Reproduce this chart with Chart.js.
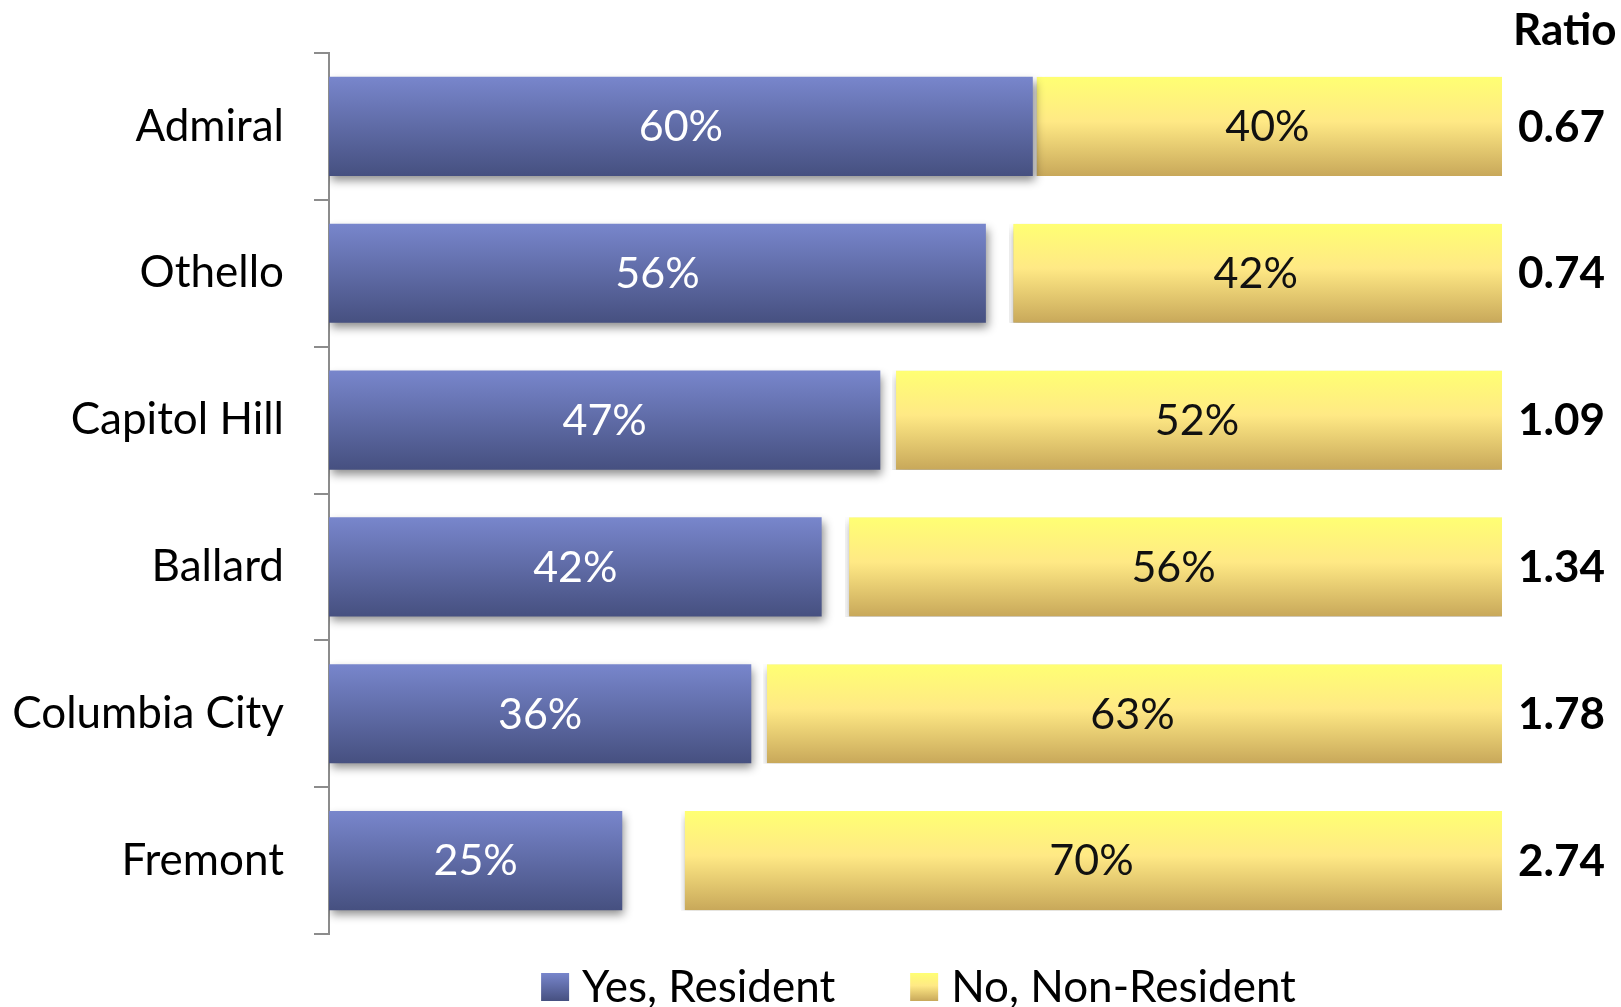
<!DOCTYPE html>
<html>
<head>
<meta charset="utf-8">
<script src="https://cdn.jsdelivr.net/npm/chart.js@4.4.1/dist/chart.umd.min.js"></script>
<style>
  html, body { margin: 0; padding: 0; background: #fff; }
  #wrap { width: 1621px; height: 1007px; }
</style>
</head>
<body>
<div id="wrap"><canvas id="chart"></canvas></div>
<script>
// données
const categories = ['Admiral', 'Othello', 'Capitol Hill', 'Ballard', 'Columbia City', 'Fremont'];
const yesResident = [60, 56, 47, 42, 36, 25];
const noNonResident = [40, 42, 52, 56, 63, 70];
const ratios = ['0.67', '0.74', '1.09', '1.34', '1.78', '2.74'];
// part restante (ni oui ni non) pour que "No" finisse à 100%
const remainder = yesResident.map((v, i) => 100 - v - noNonResident[i]);

const FONT = 'Lato';
const BAR_PCT = 0.675;
const blueStops = [[0, '#7886cc'], [1, '#465080']];
const yellowStops = [[0, '#ffff73'], [0.45, '#ffe985'], [1, '#c8a85a']];

function makeGrad(c, y0, y1, stops) {
    const g = c.createLinearGradient(0, y0, 0, y1);
    stops.forEach(s => g.addColorStop(s[0], s[1]));
    return g;
}

// dégradé vertical sur chaque barre
function barFill(stops) {
    return function (ctx) {
        const chart = ctx.chart;
        const y = chart.scales && chart.scales.y;
        if (!y || ctx.type !== 'data') return stops[0][1];
        const c = y.getPixelForValue(ctx.dataIndex);
        const h = (y.height / categories.length) * BAR_PCT / 2;
        if (!isFinite(c) || !isFinite(h) || h <= 0) return stops[0][1];
        return makeGrad(chart.ctx, c - h, c + h, stops);
    };
}

// ombre portée sous les barres + étiquettes
const barExtras = {
    id: 'barExtras',
    beforeDatasetsDraw(chart) {
        const c = chart.ctx;
        c.save();
        c.shadowColor = 'rgba(0,0,0,0.45)';
        c.shadowBlur = 9;
        c.shadowOffsetX = 2;
        c.shadowOffsetY = 5;
    },
    afterDatasetsDraw(chart) {
        const c = chart.ctx;
        c.restore();
        c.save();
        c.font = '43px ' + FONT;
        c.textAlign = 'center';
        c.textBaseline = 'middle';
        [0, 2].forEach(di => {
            const meta = chart.getDatasetMeta(di);
            const vals = chart.data.datasets[di].data;
            c.fillStyle = di === 0 ? '#ffffff' : '#111111';
            meta.data.forEach((bar, i) => {
                const p = bar.getCenterPoint();
                c.fillText(vals[i] + '%', p.x, p.y + 1);
            });
        });
        // colonne Ratio
        const yScale = chart.scales.y;
        c.font = 'bold 44px ' + FONT;
        c.fillStyle = '#000';
        c.textAlign = 'left';
        ratios.forEach((r, i) => {
            c.fillText(r, 1518, yScale.getPixelForValue(i) + 1);
        });
        c.fillText('Ratio', 1513, 31);
        c.restore();
    },
    afterDraw(chart) {
        // légende
        const c = chart.ctx;
        const items = [
            { text: 'Yes, Resident', stops: blueStops },
            { text: 'No, Non-Resident', stops: yellowStops }
        ];
        const box = 28, gapText = 13, gapItem = 75, yMid = 987;
        c.save();
        c.font = '44px ' + FONT;
        c.textBaseline = 'middle';
        c.textAlign = 'left';
        const widths = items.map(it => box + gapText + c.measureText(it.text).width);
        const total = widths.reduce((a, b) => a + b, 0) + gapItem * (items.length - 1);
        const ca = chart.chartArea;
        let x = (ca.left + ca.right) / 2 + 3 - total / 2;
        items.forEach((it, i) => {
            c.fillStyle = makeGrad(c, yMid - box / 2, yMid + box / 2, it.stops);
            c.fillRect(x, yMid - box / 2, box, box);
            c.fillStyle = '#000';
            c.fillText(it.text, x + box + gapText, yMid + 1);
            x += widths[i] + gapItem;
        });
        c.restore();
    }
};

Chart.defaults.font.family = FONT;

const ctx = document.getElementById('chart').getContext('2d');
const myChart = new Chart(ctx, {
    type: 'bar',
    data: {
        labels: categories,
        datasets: [
            {
                label: 'Yes, Resident',
                data: yesResident,
                backgroundColor: barFill(blueStops),
                borderWidth: 0
            },
            {
                label: 'Other',
                data: remainder,
                backgroundColor: 'rgba(0,0,0,0)',
                borderWidth: 0
            },
            {
                label: 'No, Non-Resident',
                data: noNonResident,
                backgroundColor: barFill(yellowStops),
                borderColor: '#ffffff',
                borderSkipped: false,
                borderWidth: { left: 4, right: 0, top: 0, bottom: 0 }
            }
        ]
    },
    options: {
        indexAxis: 'y',
        responsive: true,
        maintainAspectRatio: false,
        animation: false,
        barPercentage: BAR_PCT,
        categoryPercentage: 1,
        layout: {
            padding: { top: 53, right: 119, bottom: 73, left: 0 }
        },
        scales: {
            x: {
                stacked: true,
                min: 0,
                max: 100,
                display: false
            },
            y: {
                stacked: true,
                afterFit: function (scale) {
                    scale.width = 329;
                    scale.paddingTop = 0;
                    scale.paddingBottom = 0;
                },
                grid: {
                    drawOnChartArea: false,
                    tickLength: 15,
                    color: '#8c8c8c',
                    lineWidth: 2
                },
                border: { display: true, color: '#8c8c8c', width: 2 },
                ticks: {
                    color: '#000',
                    padding: 30,
                    font: { size: 44, family: FONT }
                }
            }
        },
        plugins: {
            legend: { display: false },
            tooltip: { enabled: false }
        }
    },
    plugins: [barExtras]
});
</script>
</body>
</html>
